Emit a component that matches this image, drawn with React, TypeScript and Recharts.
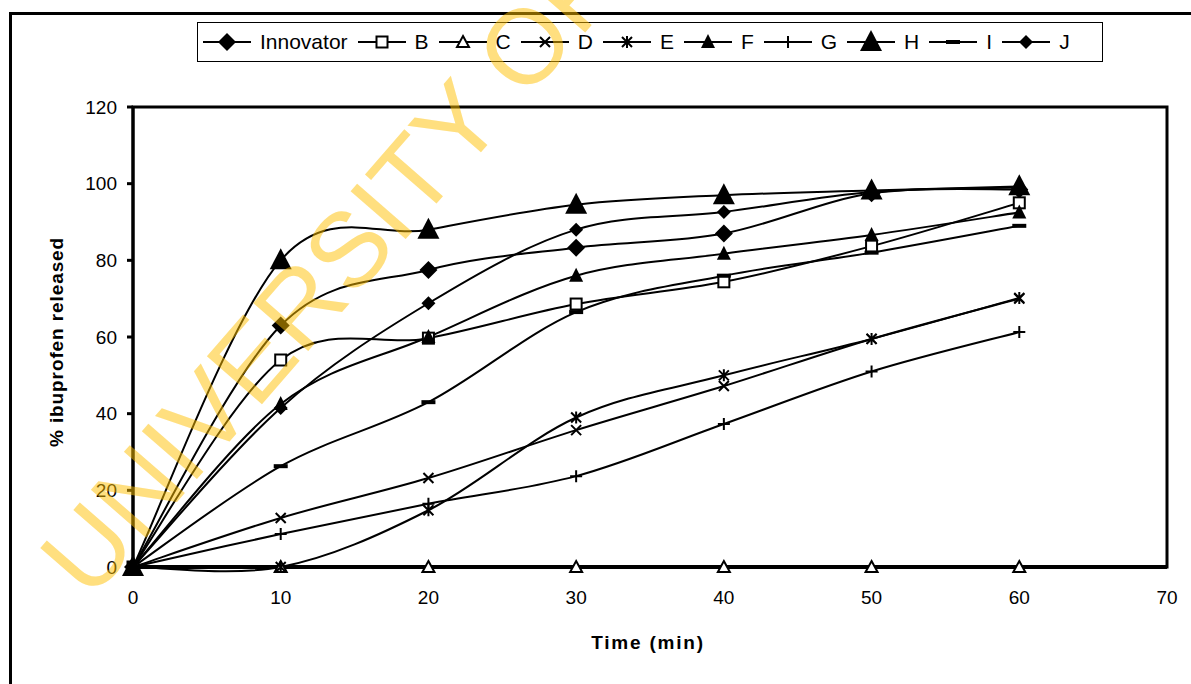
import React from "react";
import {
  Legend,
  Line,
  LineChart,
  ReferenceArea,
  XAxis,
  YAxis,
} from "recharts";

const times = [0, 10, 20, 30, 40, 50, 60];

const innovator = [0, 63, 77.5, 83.3, 87, 97.5, 98.5];
const seriesB = [0, 54, 59.7, 68.6, 74.4, 83.7, 95];
const seriesC = [0, 0, 0, 0, 0, 0, 0];
const seriesD = [0, 12.8, 23.2, 35.7, 47.2, 59.5, 70];
const seriesE = [0, 0, 14.8, 39, 50, 59.5, 70.2];
const seriesF = [0, 42.5, 60, 76, 81.7, 86.6, 92.5];
const seriesG = [0, 8.6, 16.5, 23.7, 37.3, 51, 61.3];
const seriesH = [0, 80, 88, 94.5, 97, 98.2, 99.3];
const seriesI = [0, 26.3, 43, 66.5, 76, 82, 89];
const seriesJ = [0, 41.5, 68.8, 88, 92.6, 97.8, 99];

const xTicks = [0, 10, 20, 30, 40, 50, 60, 70];
const yTicks = [0, 20, 40, 60, 80, 100, 120];

type Marker =
  | "bigDiamond"
  | "diamond"
  | "square"
  | "openTriangle"
  | "cross"
  | "star"
  | "triangle"
  | "plus"
  | "bigTriangle"
  | "dash";

const series: { name: string; values: number[]; marker: Marker }[] = [
  { name: "Innovator", values: innovator, marker: "bigDiamond" },
  { name: "B", values: seriesB, marker: "square" },
  { name: "C", values: seriesC, marker: "openTriangle" },
  { name: "D", values: seriesD, marker: "cross" },
  { name: "E", values: seriesE, marker: "star" },
  { name: "F", values: seriesF, marker: "triangle" },
  { name: "G", values: seriesG, marker: "plus" },
  { name: "H", values: seriesH, marker: "bigTriangle" },
  { name: "I", values: seriesI, marker: "dash" },
  { name: "J", values: seriesJ, marker: "diamond" },
];

const data = times.map((t, i) => {
  const row: Record<string, number> = { time: t };
  series.forEach((s) => (row[s.name] = s.values[i]));
  return row;
});

const FONT = '"Liberation Sans", Arial, sans-serif';

// Excel-style smoothed line (Catmull-Rom through the points)
const excelSmooth = (context: any) => {
  let pts: number[][] = [];
  return {
    areaStart() {},
    areaEnd() {},
    lineStart() {
      pts = [];
    },
    point(x: number, y: number) {
      pts.push([+x, +y]);
    },
    lineEnd() {
      const n = pts.length;
      if (!n) return;
      context.moveTo(pts[0][0], pts[0][1]);
      for (let i = 0; i < n - 1; i++) {
        const p0 = pts[Math.max(i - 1, 0)];
        const p1 = pts[i];
        const p2 = pts[i + 1];
        const p3 = pts[Math.min(i + 2, n - 1)];
        context.bezierCurveTo(
          p1[0] + (p2[0] - p0[0]) / 6,
          p1[1] + (p2[1] - p0[1]) / 6,
          p2[0] - (p3[0] - p1[0]) / 6,
          p2[1] - (p3[1] - p1[1]) / 6,
          p2[0],
          p2[1]
        );
      }
    },
  };
};

function drawMarker(kind: Marker, cx: number, cy: number, key?: string) {
  const k = key;
  switch (kind) {
    case "bigDiamond":
      return (
        <path key={k} d={`M${cx},${cy - 9}L${cx + 9},${cy}L${cx},${cy + 9}L${cx - 9},${cy}Z`} fill="#000" />
      );
    case "diamond":
      return (
        <path key={k} d={`M${cx},${cy - 7}L${cx + 7},${cy}L${cx},${cy + 7}L${cx - 7},${cy}Z`} fill="#000" />
      );
    case "square":
      return (
        <rect key={k} x={cx - 5.5} y={cy - 5.5} width={11} height={11} fill="#fff" stroke="#000" strokeWidth={2} />
      );
    case "openTriangle":
      return (
        <path key={k} d={`M${cx},${cy - 6}L${cx + 6},${cy + 5}L${cx - 6},${cy + 5}Z`} fill="#fff" stroke="#000" strokeWidth={2} />
      );
    case "cross":
      return (
        <path key={k} d={`M${cx - 5},${cy - 5}L${cx + 5},${cy + 5}M${cx - 5},${cy + 5}L${cx + 5},${cy - 5}`} stroke="#000" strokeWidth={2} />
      );
    case "star":
      return (
        <path
          key={k}
          d={`M${cx - 5},${cy - 5}L${cx + 5},${cy + 5}M${cx - 5},${cy + 5}L${cx + 5},${cy - 5}M${cx},${cy - 6}L${cx},${cy + 6}`}
          stroke="#000"
          strokeWidth={2}
        />
      );
    case "triangle":
      return (
        <path key={k} d={`M${cx},${cy - 8}L${cx + 7},${cy + 6}L${cx - 7},${cy + 6}Z`} fill="#000" />
      );
    case "plus":
      return (
        <path key={k} d={`M${cx - 6},${cy}L${cx + 6},${cy}M${cx},${cy - 6}L${cx},${cy + 6}`} stroke="#000" strokeWidth={2} />
      );
    case "bigTriangle":
      return (
        <path key={k} d={`M${cx},${cy - 12}L${cx + 11},${cy + 9}L${cx - 11},${cy + 9}Z`} fill="#000" />
      );
    case "dash":
      return <rect key={k} x={cx - 7} y={cy - 2} width={14} height={4} fill="#000" />;
  }
}

const LegendBox = () => (
  <div
    style={{
      boxSizing: "border-box",
      width: 906,
      height: 40,
      border: "1.5px solid #000",
      display: "flex",
      alignItems: "center",
      paddingLeft: 5,
      fontFamily: FONT,
      fontSize: 21,
      color: "#000",
      background: "#fff",
    }}
  >
    {series.map((s) => (
      <div key={s.name} style={{ display: "flex", alignItems: "center", marginRight: 10 }}>
        <svg width={48} height={24}>
          <line x1={0} y1={12} x2={48} y2={12} stroke="#000" strokeWidth={2} />
          {drawMarker(s.marker, 24, 12)}
        </svg>
        <span style={{ marginLeft: 9 }}>{s.name}</span>
      </div>
    ))}
  </div>
);

export default function App() {
  return (
    <div
      style={{
        position: "absolute",
        left: 0,
        top: 0,
        width: 1191,
        height: 684,
        overflow: "hidden",
        background: "#fff",
      }}
    >
      <div
        style={{
          position: "absolute",
          left: 9,
          top: 12,
          width: 1300,
          height: 800,
          borderLeft: "3px solid #000",
          borderTop: "3px solid #000",
        }}
      />
      <LineChart
        width={1191}
        height={684}
        data={data}
        margin={{ top: 107, right: 24, bottom: 0, left: 0 }}
        style={{ position: "absolute", left: 0, top: 0 }}
      >
        <ReferenceArea
          x1={0}
          x2={70}
          y1={0}
          y2={120}
          fill="none"
          stroke="#000"
          strokeWidth={3}
          ifOverflow="visible"
        />
        <XAxis
          dataKey="time"
          type="number"
          domain={[0, 70]}
          ticks={xTicks}
          height={117}
          axisLine={{ stroke: "#000", strokeWidth: 4 }}
          tickLine={false}
          tickSize={0}
          tickMargin={24}
          tick={{ fill: "#000", fontSize: 19, fontFamily: FONT }}
          label={() => (
            <text
              x={648}
              y={649}
              textAnchor="middle"
              fontFamily={FONT}
              fontSize={19}
              fontWeight="bold"
              letterSpacing={1.8}
              fill="#000"
            >
              Time (min)
            </text>
          )}
        />
        <YAxis
          type="number"
          domain={[0, 120]}
          ticks={yTicks}
          width={133}
          axisLine={{ stroke: "#000", strokeWidth: 3 }}
          tickLine={{ stroke: "#000", strokeWidth: 3 }}
          tickSize={6}
          tickMargin={10}
          tick={{ fill: "#000", fontSize: 19, fontFamily: FONT }}
          label={() => (
            <text
              x={63}
              y={342}
              transform="rotate(-90 63 342)"
              textAnchor="middle"
              fontFamily={FONT}
              fontSize={19}
              fontWeight="bold"
              letterSpacing={0.9}
              fill="#000"
            >
              % ibuprofen released
            </text>
          )}
        />
        <Legend
          verticalAlign="middle"
          align="center"
          layout="horizontal"
          wrapperStyle={{ left: 197, top: 22, width: 906, height: 40 }}
          content={() => <LegendBox />}
        />
        {series.map((s) => (
          <Line
            key={s.name}
            dataKey={s.name}
            type={excelSmooth as any}
            stroke="#000"
            strokeWidth={2}
            isAnimationActive={false}
            dot={(p: any) => drawMarker(s.marker, p.cx, p.cy, `${s.name}-${p.index}`) as any}
            activeDot={false}
          />
        ))}
      </LineChart>
      <svg
        width={1191}
        height={684}
        style={{ position: "absolute", left: 0, top: 0, pointerEvents: "none" }}
      >
        <text
          transform="translate(90,602) rotate(-49)"
          fontFamily={FONT}
          fontSize={106}
          fill="rgba(255,192,0,0.5)"
        >
          UNIVERSITY OF
        </text>
      </svg>
    </div>
  );
}
